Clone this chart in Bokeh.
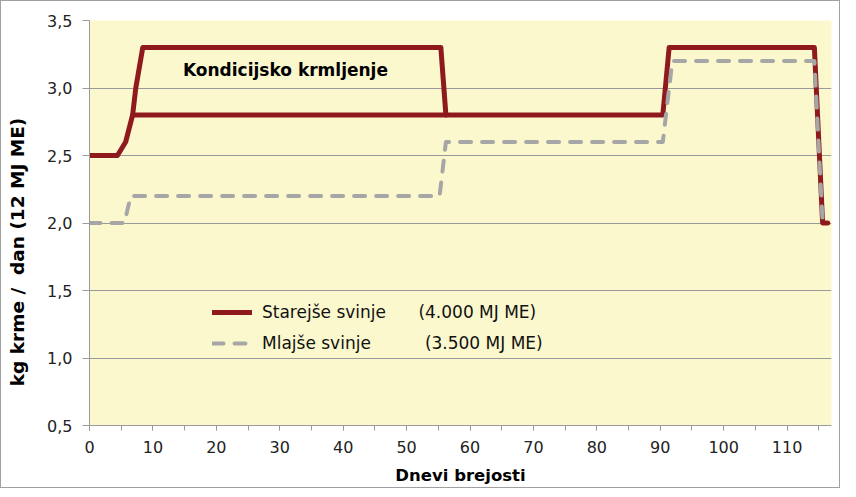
from bokeh.plotting import figure
from bokeh.models import (Range1d, FixedTicker, CustomJSTickFormatter, Legend, LegendItem, Label)
from bokeh.embed import file_html
from bokeh.resources import INLINE

# ---- data ----
old_x = [0, 4.4, 5.7, 6.8, 90.4, 91.4, 114.3, 115.6, 116.4]
old_y = [2.5, 2.5, 2.6, 2.8, 2.8, 3.3, 3.3, 2.0, 2.0]
cond_x = [6.8, 7.3, 8.4, 55.4, 56.2]
cond_y = [2.8, 3.0, 3.3, 3.3, 2.8]
young_x = [0, 5.5, 6.5, 55.2, 56.2, 90.4, 91.9, 114.3, 115.6, 116.4]
young_y = [2.0, 2.0, 2.2, 2.2, 2.6, 2.6, 3.2, 3.2, 2.0, 2.0]
x_ticks = list(range(0, 111, 10))
x_minor = list(range(0, 116, 5))
y_ticks = [0.5, 1.0, 1.5, 2.0, 2.5, 3.0, 3.5]
NB = "\u00a0"
label_old = "Starejše svinje" + NB * 6 + "(4.000 MJ ME)"
label_young = "Mlajše svinje" + NB * 10 + "(3.500 MJ ME)"
annot = "Kondicijsko krmljenje"
x_title = "Dnevi brejosti"
y_title = "kg krme /" + NB * 2 + "dan (12 MJ ME)"

RED = "#8E1A1E"
GRAY = "#A6A6A6"
FONT = "DejaVu Sans"

p = figure(width=840, height=488, output_backend="svg", toolbar_location=None,
           x_range=Range1d(0, 117), y_range=Range1d(0.5, 3.5),
           min_border_left=88, min_border_top=19, min_border_right=10, min_border_bottom=64)
p.styles = {"border": "1px solid #A0A0A0"}
p.background_fill_color = "#FCF8CE"
p.border_fill_color = "white"
p.outline_line_color = None

p.xgrid.grid_line_color = None
p.ygrid.grid_line_color = "#9A9A9A"
p.ygrid.ticker = FixedTicker(ticks=y_ticks)

p.xaxis.ticker = FixedTicker(ticks=x_ticks, minor_ticks=x_minor)
p.yaxis.ticker = FixedTicker(ticks=y_ticks)
p.yaxis.formatter = CustomJSTickFormatter(code="return tick.toFixed(1).replace('.', ',');")

for ax in (p.xaxis[0], p.yaxis[0]):
    ax.axis_line_color = "#9A9A9A"
    ax.major_tick_line_color = "#9A9A9A"
    ax.minor_tick_line_color = "#9A9A9A"
    ax.major_tick_in = 0
    ax.major_tick_out = 5
    ax.minor_tick_in = 0
    ax.minor_tick_out = 5
    ax.major_label_text_font = FONT
    ax.major_label_text_font_size = "16px"
    ax.major_label_text_color = "#222222"
    ax.axis_label_text_font = FONT
    ax.axis_label_text_font_style = "bold"
    ax.axis_label_text_color = "black"
p.yaxis.minor_tick_out = 0
p.yaxis.major_tick_out = 7
p.xaxis.axis_label_text_font_size = "16.5px"
p.yaxis.axis_label_text_font_size = "18.5px"
p.xaxis.major_label_standoff = 10
p.yaxis.major_label_standoff = 10
p.xaxis.axis_label = x_title
# trailing non-breaking spaces shift the visible title down, as in the reference
p.yaxis.axis_label = y_title + NB * 9
p.xaxis.axis_label_standoff = 10
p.yaxis.axis_label_standoff = 16

r_old = p.line(old_x, old_y, line_color=RED, line_width=5, line_join="round", line_cap="round")
p.line(cond_x, cond_y, line_color=RED, line_width=5, line_join="round", line_cap="round")
r_young = p.line(young_x, young_y, line_color=GRAY, line_width=4, line_dash="11 11",
                 line_join="round", line_cap="round")

p.add_layout(Label(x=30.9, y=3.13, text=annot, text_font=FONT, text_font_size="17px",
                   text_font_style="bold", text_color="black", text_align="center",
                   text_baseline="middle"))

legend = Legend(items=[LegendItem(label=label_old, renderers=[r_old]),
                       LegendItem(label=label_young, renderers=[r_young])],
                location=(123, 72), padding=0, margin=0, spacing=11,
                glyph_width=40, glyph_height=20, label_height=20, label_standoff=10,
                label_text_font=FONT, label_text_font_size="17px", label_text_color="#111111",
                background_fill_alpha=0, border_line_color=None)
p.add_layout(legend)

open("out.html", "w").write(file_html(p, INLINE))
